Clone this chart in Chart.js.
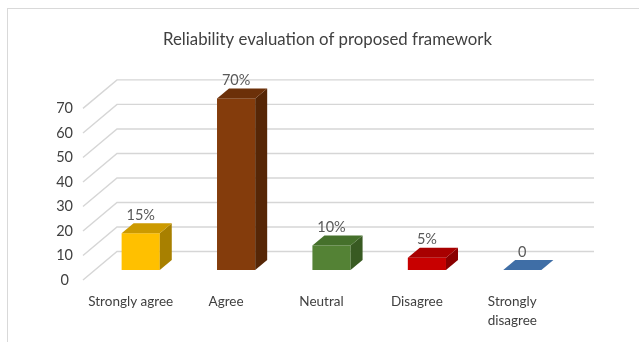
<!DOCTYPE html>
<html>
<head>
<meta charset="utf-8">
<script src="https://cdn.jsdelivr.net/npm/chart.js@4.4.1/dist/chart.umd.min.js"></script>
<style>
  html, body { margin: 0; padding: 0; background: #fff; }
  canvas { display: block; }
</style>
</head>
<body>
<canvas id="reliability" width="639" height="342"></canvas>
<script>
// data
const chartTitle = 'Reliability evaluation of proposed framework';
const categories = ['Strongly agree', 'Agree', 'Neutral', 'Disagree', ['Strongly', 'disagree']];
const responses = [15, 70, 10, 5, 0];
const responseLabels = ['15%', '70%', '10%', '5%', '0'];
const yTicks = [0, 10, 20, 30, 40, 50, 60, 70];

// shading for the fake 3d boxes: front, top, side
const frontColors = ['#FFC000', '#843C0C', '#548235', '#C80000', '#4472A8'];
const topColors   = ['#CC9A00', '#6C3009', '#45702B', '#A80000', '#3F6EA6'];
const sideColors  = ['#A88000', '#562606', '#385A22', '#8A0000', '#2F5580'];

const FONT = 'Lato, "Open Sans", sans-serif';

// oblique offsets (px) from the axis plane
const MID_X = 10, MID_Y = -10;      // front face of the bars
const DEPTH_X = 12, DEPTH_Y = -10;  // thickness of a bar
const WALL_X = 34, WALL_Y = -28.5;  // back wall with gridlines

function poly(ctx, pts, color) {
  ctx.beginPath();
  ctx.moveTo(pts[0][0], pts[0][1]);
  for (let i = 1; i < pts.length; i++) ctx.lineTo(pts[i][0], pts[i][1]);
  ctx.closePath();
  ctx.fillStyle = color;
  ctx.fill();
}

// outer frame + title (the title sits centred on the frame, not on the plot box)
const frame = {
  id: 'frame',
  beforeDraw(chart) {
    const ctx = chart.ctx;
    ctx.save();
    ctx.fillStyle = '#fff';
    ctx.fillRect(0, 0, chart.width, chart.height);
    ctx.strokeStyle = '#d9d9d9';
    ctx.lineWidth = 1;
    ctx.strokeRect(7.5, 8.5, chart.width + 10, chart.height + 10);

    ctx.fillStyle = '#404040';
    ctx.font = '16.8px ' + FONT;
    ctx.textAlign = 'center';
    ctx.textBaseline = 'middle';
    ctx.fillText(chartTitle, (7 + chart.width + 9) / 2, 39.5);
    ctx.restore();
  }
};

const walls = {
  id: 'walls',
  beforeDatasetsDraw(chart) {
    const { ctx, chartArea: a, scales: { y } } = chart;
    ctx.save();
    ctx.strokeStyle = '#d6d6d6';
    ctx.lineWidth = 1.4;
    y.ticks.forEach(t => {
      const py = y.getPixelForValue(t.value);
      ctx.beginPath();
      ctx.moveTo(a.left, py);
      ctx.lineTo(a.left + WALL_X, py + WALL_Y);
      ctx.lineTo(a.right + WALL_X, py + WALL_Y);
      ctx.stroke();
    });
    ctx.restore();
  }
};

const boxes = {
  id: 'boxes',
  afterDatasetsDraw(chart) {
    const ctx = chart.ctx;
    const meta = chart.getDatasetMeta(0);
    ctx.save();
    meta.data.forEach((bar, i) => {
      const p = bar.getProps(['x', 'y', 'base', 'width'], true);
      const x0 = p.x - p.width / 2 + MID_X;
      const x1 = p.x + p.width / 2 + MID_X;
      const yt = p.y + MID_Y;
      const yb = p.base + MID_Y;
      if (yb - yt > 0.5) {
        ctx.fillStyle = frontColors[i];
        ctx.fillRect(x0, yt, x1 - x0, yb - yt);
        poly(ctx, [[x1, yt], [x1 + DEPTH_X, yt + DEPTH_Y], [x1 + DEPTH_X, yb + DEPTH_Y], [x1, yb]], sideColors[i]);
      }
      poly(ctx, [[x0, yt], [x1, yt], [x1 + DEPTH_X, yt + DEPTH_Y], [x0 + DEPTH_X, yt + DEPTH_Y]], topColors[i]);

      ctx.fillStyle = '#595959';
      ctx.font = '14.5px ' + FONT;
      ctx.textAlign = 'center';
      ctx.textBaseline = 'middle';
      ctx.fillText(responseLabels[i], p.x + MID_X, yt + DEPTH_Y - 8);
    });
    ctx.restore();
  }
};

new Chart(document.getElementById('reliability'), {
  type: 'bar',
  data: {
    labels: categories,
    datasets: [{
      data: responses,
      backgroundColor: 'rgba(0,0,0,0)',
      borderWidth: 0,
      barPercentage: 0.4,
      categoryPercentage: 1
    }]
  },
  options: {
    responsive: false,
    animation: false,
    devicePixelRatio: 1,
    layout: { padding: { left: 47, right: 79, top: 108.4, bottom: 0 } },
    plugins: {
      legend: { display: false },
      tooltip: { enabled: false },
      title: { display: false }
    },
    scales: {
      x: {
        grid: { display: false, drawTicks: false },
        border: { display: false },
        ticks: {
          color: '#404040',
          font: { family: FONT, size: 13.5, lineHeight: 1.4 },
          padding: 12,
          maxRotation: 0,
          autoSkip: false
        },
        afterFit(s) { s.height = 62; }
      },
      y: {
        min: yTicks[0],
        max: yTicks[yTicks.length - 1],
        afterBuildTicks(s) { s.ticks = yTicks.map(v => ({ value: v })); },
        grid: { display: false, drawTicks: false },
        border: { display: false },
        ticks: {
          color: '#404040',
          font: { family: FONT, size: 14.5 },
          crossAlign: 'center',
          padding: 10
        },
        afterFit(s) { s.width = 36; }
      }
    }
  },
  plugins: [frame, walls, boxes]
});
</script>
</body>
</html>
